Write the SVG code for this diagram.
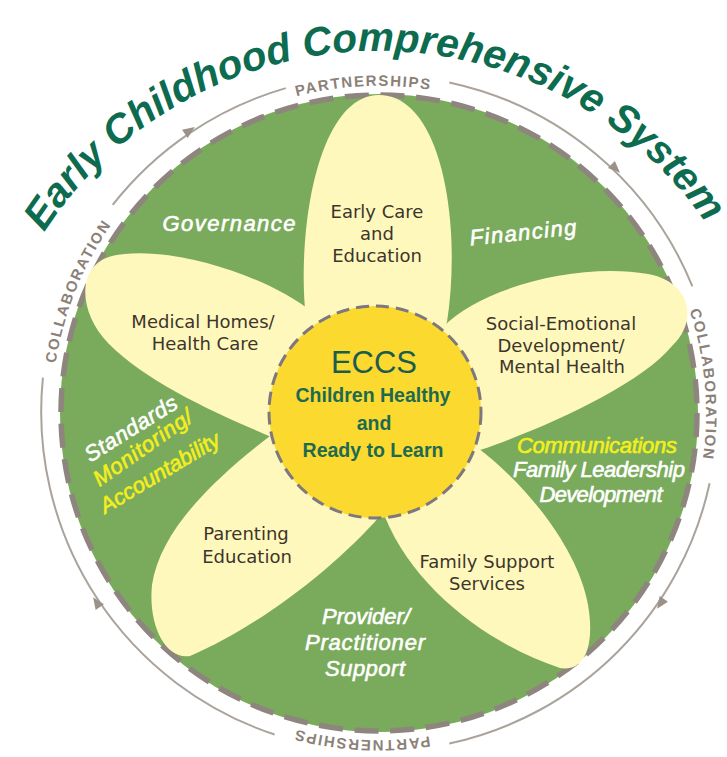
<svg xmlns="http://www.w3.org/2000/svg" width="727" height="757" viewBox="0 0 727 757">
<style>
.petal{fill:#fff8bc}
.ptxt{font-family:"DejaVu Sans",sans-serif;font-size:18px;fill:#3d352b;text-anchor:middle}
.wtxt{font-family:"Liberation Sans",Arial,sans-serif;font-style:italic;font-size:22px;fill:#ffffff;stroke:#ffffff;stroke-width:0.6px;text-anchor:middle}
.ytxt{font-family:"Liberation Sans",Arial,sans-serif;font-style:italic;font-size:22px;fill:#f3ef1c;stroke:#f3ef1c;stroke-width:0.6px;text-anchor:middle}
.ring{font-family:"Liberation Sans",Arial,sans-serif;font-weight:bold;font-size:15px;fill:#8b8178;letter-spacing:1.6px;text-anchor:middle}
.ctr{font-family:"Liberation Sans",Arial,sans-serif;font-weight:bold;font-size:19.5px;fill:#1d6a51;text-anchor:middle}
.thin{fill:none;stroke:#aaa39c;stroke-width:2}
.arrow{fill:#9a928a}
</style>
<defs>
<path id="titleArc" d="M 44.2,232.2 A 398 398 0 0 1 715.5,238.1"/>
<path id="ringPath" d="M 95.8,576.5 A 327 327 0 1 1 662.2,249.5 A 327 327 0 1 1 95.8,576.5"/>
</defs>
<rect width="727" height="757" fill="#ffffff"/>
<g id="title">
<text font-family="Liberation Sans, Arial, sans-serif" font-style="italic" font-weight="bold" font-size="40.5" fill="#0d6b4f"><textPath href="#titleArc" startOffset="0">Early Childhood Comprehensive System</textPath></text>
</g>
<g id="outer-ring">
<path class="thin" d="M 449.3,82.4 A 340 340 0 0 1 692.4,286.4"/>
<path class="thin" d="M 709.6,483.3 A 340 340 0 0 1 449.3,743.6"/>
<path class="thin" d="M 274.6,734.5 A 340 340 0 0 1 42.9,377.7"/>
<path class="thin" d="M 112.7,204.9 A 340 340 0 0 1 285.8,88.1"/>
<text class="ring"><textPath href="#ringPath" startOffset="32.58%">PARTNERSHIPS</textPath></text>
<text class="ring"><textPath href="#ringPath" startOffset="56.94%">COLLABORATION</textPath></text>
<text class="ring"><textPath href="#ringPath" startOffset="84.17%">PARTNERSHIPS</textPath></text>
<text class="ring"><textPath href="#ringPath" startOffset="14.44%">COLLABORATION</textPath></text>
</g>
<g id="connectors">
<path class="arrow" d="M 7,0 L -5,-5 L -5,5 Z" transform="translate(189,131) rotate(-34)"/>
<path class="arrow" d="M 7,0 L -5,-5 L -5,5 Z" transform="translate(615,168) rotate(44)"/>
<path class="arrow" d="M 7,0 L -5,-5 L -5,5 Z" transform="translate(661,603) rotate(124)"/>
<path class="arrow" d="M 7,0 L -5,-5 L -5,5 Z" transform="translate(97,603) rotate(236)"/>
</g>
<g id="system-circle">
<circle cx="379" cy="413" r="319" fill="#7aab5c"/>
<circle cx="379" cy="413" r="318" fill="none" stroke="#8e867e" stroke-width="5.5" stroke-dasharray="24 11.7"/>
</g>
<g id="petal-early-care">
<path class="petal" d="M 340,420 L 306,320 C 296,230 318,95 379,95 C 442,95 462,225 447,322 L 410,420 Z"/>
</g>
<g id="petal-social-emotional">
<path class="petal" d="M 400,420 L 443,327 C 480,288 578,262 648,274 C 692,282 698,322 672,346 C 640,385 545,428 480,450 L 400,440 Z"/>
</g>
<g id="petal-medical-homes">
<path class="petal" d="M 370,420 L 312,312 C 262,272 162,244 112,256 C 76,265 78,312 108,343 C 148,384 222,416 274,438 L 370,440 Z"/>
</g>
<g id="petal-parenting">
<path class="petal" d="M 340,400 L 270,436 C 215,478 160,530 152,585 C 148,625 165,660 190,656 C 262,625 336,566 380,516 L 380,440 Z"/>
</g>
<g id="petal-family-support">
<path class="petal" d="M 420,420 L 478,448 C 530,488 578,550 588,605 C 595,645 585,672 560,668 C 490,645 415,590 385,517 L 380,440 Z"/>
</g>
<g id="petal-texts">
<text class="ptxt" x="377" y="218">Early Care</text>
<text class="ptxt" x="377" y="240">and</text>
<text class="ptxt" x="377" y="262">Education</text>
<text class="ptxt" x="203" y="328">Medical Homes/</text>
<text class="ptxt" x="205" y="350">Health Care</text>
<text class="ptxt" x="561" y="330">Social-Emotional</text>
<text class="ptxt" x="561" y="352">Development/</text>
<text class="ptxt" x="562" y="373">Mental Health</text>
<text class="ptxt" x="246" y="540">Parenting</text>
<text class="ptxt" x="247" y="563">Education</text>
<text class="ptxt" x="487" y="568">Family Support</text>
<text class="ptxt" x="487" y="590">Services</text>
</g>
<g id="center-eccs">
<circle cx="375" cy="412" r="106" fill="#fbd92e" stroke="#7d7880" stroke-width="3" stroke-dasharray="13 7"/>
<text x="374" y="373" font-family="Liberation Sans, Arial, sans-serif" font-size="31" fill="#1b5c4f" text-anchor="middle">ECCS</text>
<text class="ctr" x="373" y="402">Children Healthy</text>
<text class="ctr" x="374" y="430">and</text>
<text class="ctr" x="373" y="457">Ready to Learn</text>
</g>
<g id="label-governance">
<text class="wtxt" x="229" y="231" textLength="133">Governance</text>
</g>
<g id="label-financing">
<text class="wtxt" transform="translate(523,233) rotate(-6)" x="0" y="7" textLength="107">Financing</text>
</g>
<g id="label-standards">
<text class="wtxt" transform="translate(131,429) rotate(-32)" x="0" y="7" textLength="105">Standards</text>
<text class="ytxt" transform="translate(143,448) rotate(-35)" x="0" y="7" textLength="116">Monitoring/</text>
<text class="ytxt" transform="translate(160,473) rotate(-31)" x="0" y="7" textLength="136">Accountability</text>
</g>
<g id="label-communications">
<text class="ytxt" x="597" y="453" font-size="21" textLength="160">Communications</text>
<text class="wtxt" x="599" y="477" font-size="21" textLength="172">Family Leadership</text>
<text class="wtxt" x="601" y="502" font-size="21" textLength="123">Development</text>
</g>
<g id="label-provider">
<text class="wtxt" x="366" y="624" textLength="88">Provider/</text>
<text class="wtxt" x="365" y="650" textLength="120">Practitioner</text>
<text class="wtxt" x="365" y="676" textLength="80">Support</text>
</g>
</svg>
